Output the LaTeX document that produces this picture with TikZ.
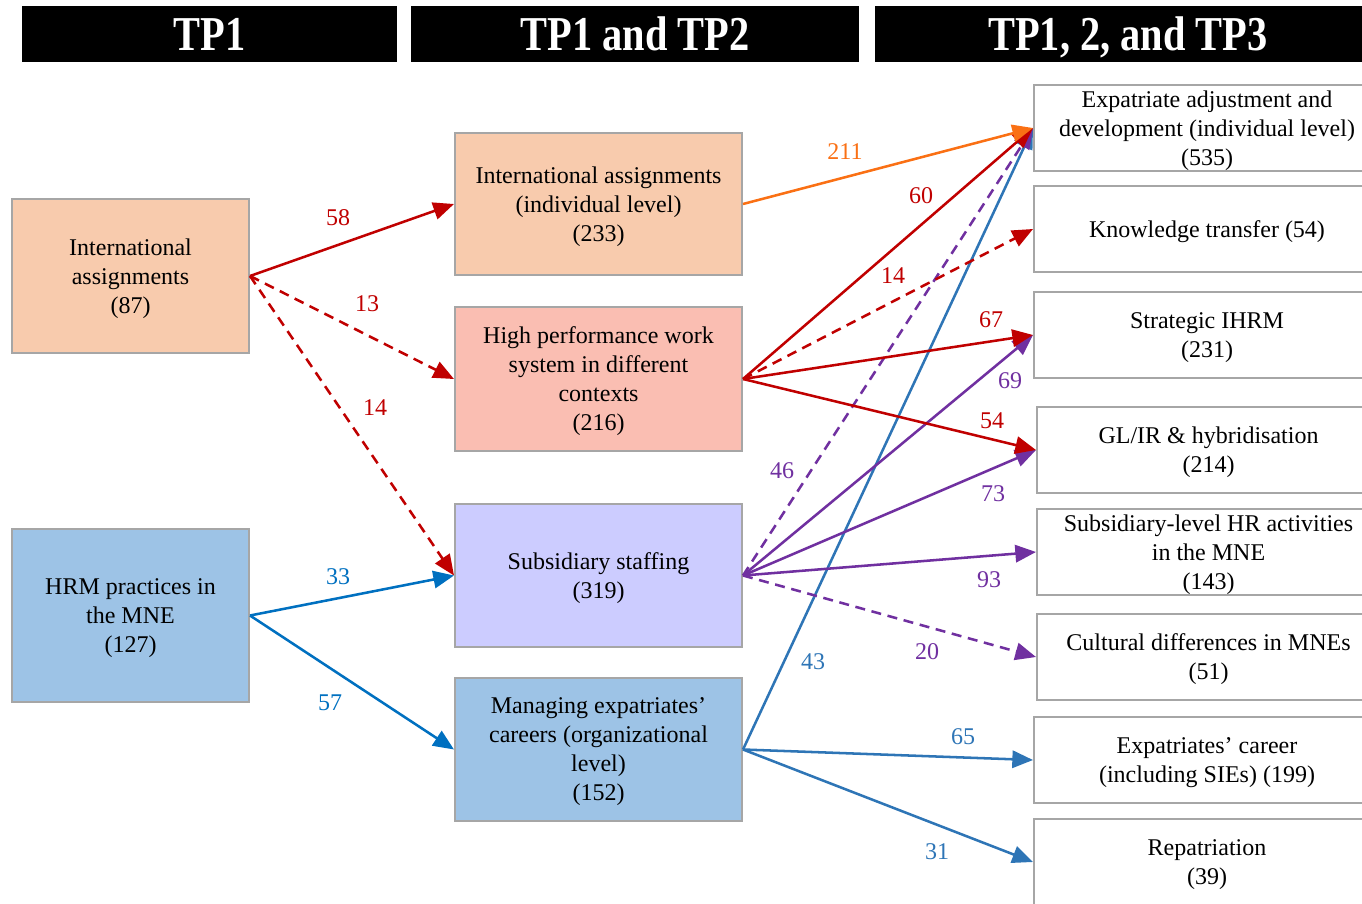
\documentclass[tikz,border=0pt]{standalone}
\usepackage{fontspec}
\setmainfont{Liberation Serif}
\usetikzlibrary{arrows.meta}
\definecolor{peach}{RGB}{248,203,173}
\definecolor{salmon}{RGB}{250,190,178}
\definecolor{lav}{RGB}{204,204,255}
\definecolor{lblue}{RGB}{157,195,230}
\definecolor{bord}{RGB}{166,166,166}
\definecolor{cred}{RGB}{192,0,0}
\definecolor{corange}{RGB}{250,112,20}
\definecolor{cblueA}{RGB}{0,112,192}
\definecolor{cblueB}{RGB}{46,117,182}
\definecolor{cpurple}{RGB}{112,48,160}
\newcommand\hdrtext[1]{\scalebox{0.83}[1]{\fontsize{36.5}{36.5}\selectfont\bfseries #1}}
\begin{document}
\begin{tikzpicture}[x=0.75pt,y=-0.75pt,
  bx/.style 2 args={minimum width=#1*0.75pt, minimum height=#2*0.75pt},
  box/.style={draw=bord, line width=1.5pt, align=center, inner sep=0pt,
     text depth=0pt, font=\fontsize{18}{21.75}\selectfont},
  hdr/.style={fill=black, text=white, inner sep=0pt, text depth=0pt},
  arr/.style={line width=1.9pt, -{Triangle[length=15.5pt,width=13pt]}},
  dsh/.style={dash pattern=on 7.5pt off 5pt},
  lbl/.style={font=\fontsize{18}{21.75}\selectfont, inner sep=0pt}]
\useasboundingbox (0,0) rectangle (1362,903);

% headers
\node[hdr, bx={375}{56}] (h1) at (209.5,34) {\hdrtext{TP1}};
\node[hdr, bx={448}{56}] (h2) at (635,34) {\hdrtext{TP1 and TP2}};
\node[hdr, bx={506}{56}] (h3) at (1128,34) {\hdrtext{TP1, 2, and TP3}};

% left
\node[box, fill=peach, bx={237}{154}] (ia) at (130.5,276) {International\\assignments\\(87)};
\node[box, fill=lblue, bx={237}{173}] (hrm) at (130.5,615.5) {HRM practices in\\the MNE\\(127)};

% middle
\node[box, fill=peach, bx={287}{142}] (iaind) at (598.5,204) {International assignments\\(individual level)\\(233)};
\node[box, fill=salmon, bx={287}{144}] (hpws) at (598.5,379) {High performance work\\system in different\\contexts\\(216)};
\node[box, fill=lav, bx={287}{143}] (sub) at (598.5,575.5) {Subsidiary staffing\\(319)};
\node[box, fill=lblue, bx={287}{143}] (mec) at (598.5,749.5) {Managing expatriates’\\careers (organizational\\level)\\(152)};

% right
\node[box, fill=white, bx={346}{86}] (ead) at (1207,128) {Expatriate adjustment and\\development (individual level)\\(535)};
\node[box, fill=white, bx={346}{86}] (kt) at (1207,229) {Knowledge transfer (54)};
\node[box, fill=white, bx={346}{86}] (sih) at (1207,335) {Strategic IHRM\\(231)};
\node[box, fill=white, bx={343}{86}] (glir) at (1208.5,450) {GL/IR \& hybridisation\\(214)};
\node[box, fill=white, bx={343}{86}] (shr) at (1208.5,552) {Subsidiary-level HR activities\\in the MNE\\(143)};
\node[box, fill=white, bx={343}{86}] (cd) at (1208.5,657) {Cultural differences in MNEs\\(51)};
\node[box, fill=white, bx={346}{86}] (ec) at (1207,760) {Expatriates’ career\\(including SIEs) (199)};
\node[box, fill=white, bx={346}{86}] (rep) at (1207,862) {Repatriation\\(39)};

% connectors
\draw[arr, cred] (ia.east) -- (iaind.west);
\draw[arr, cred, dsh] (ia.east) -- (hpws.west);
\draw[arr, cred, dsh] (ia.east) -- (sub.west);
\draw[arr, cblueA] (hrm.east) -- (sub.west);
\draw[arr, cblueA] (hrm.east) -- (mec.west);

\draw[arr, cblueB] (mec.east) -- (ead.west);
\draw[arr, cblueB] (mec.east) -- (ec.west);
\draw[arr, cblueB] (mec.east) -- (rep.west);

\draw[arr, cpurple, dsh] (sub.east) -- (ead.west);
\draw[arr, cpurple] (sub.east) -- (sih.west);
\draw[arr, cpurple] (sub.east) -- (glir.west);
\draw[arr, cpurple] (sub.east) -- (shr.west);
\draw[arr, cpurple, dsh] (sub.east) -- (cd.west);

\draw[arr, cred] (hpws.east) -- (ead.west);
\draw[arr, cred, dsh] (hpws.east) -- (kt.west);
\draw[arr, cred] (hpws.east) -- (sih.west);
\draw[arr, cred] (hpws.east) -- (glir.west);

\draw[arr, corange] (iaind.east) -- (ead.west);

% labels
\node[lbl, text=cred] (l58) at (338,218) {58};
\node[lbl, text=cred] (l13) at (367,304) {13};
\node[lbl, text=cred] (l14a) at (375,408) {14};
\node[lbl, text=cblueA] (l33) at (338,577) {33};
\node[lbl, text=cblueA] (l57) at (330,703) {57};
\node[lbl, text=corange] (l211) at (845,152) {211};
\node[lbl, text=cred] (l60) at (921,196) {60};
\node[lbl, text=cred] (l14b) at (893,276) {14};
\node[lbl, text=cred] (l67) at (991,320) {67};
\node[lbl, text=cred] (l54) at (992,421) {54};
\node[lbl, text=cpurple] (l46) at (782,471) {46};
\node[lbl, text=cpurple] (l69) at (1010,381) {69};
\node[lbl, text=cpurple] (l73) at (993,494) {73};
\node[lbl, text=cpurple] (l93) at (989,580) {93};
\node[lbl, text=cpurple] (l20) at (927,652) {20};
\node[lbl, text=cblueB] (l43) at (813,662) {43};
\node[lbl, text=cblueB] (l65) at (963,737) {65};
\node[lbl, text=cblueB] (l31) at (937,852) {31};
\end{tikzpicture}
\end{document}
